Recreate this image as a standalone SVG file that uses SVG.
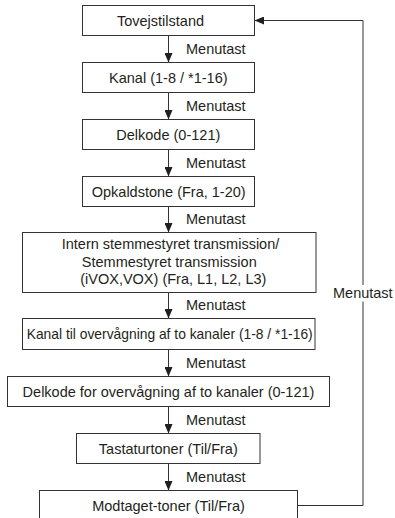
<svg xmlns="http://www.w3.org/2000/svg" width="395" height="518" viewBox="0 0 395 518">
<defs>
<style>
.box{fill:#fff;stroke:#333;stroke-width:1}
.t{font-family:"Liberation Sans",Arial,sans-serif;font-size:14.5px;fill:#231f20}
.c{text-anchor:middle}
.ln{fill:none;stroke:#333;stroke-width:1}
</style>
<marker id="ah" markerWidth="10" markerHeight="8" refX="9" refY="4" orient="auto" markerUnits="userSpaceOnUse">
<path d="M0,0 L9.5,4 L0,8 z" fill="#231f20"/>
</marker>
</defs>
<rect width="395" height="518" fill="#fff"/>
<g id="connectors">
<path class="ln" d="M168.5,35.5 V62" marker-end="url(#ah)"/>
<path class="ln" d="M168.5,92.5 V119" marker-end="url(#ah)"/>
<path class="ln" d="M168.5,149.5 V176" marker-end="url(#ah)"/>
<path class="ln" d="M168.5,206.5 V232" marker-end="url(#ah)"/>
<path class="ln" d="M168.5,292.5 V318" marker-end="url(#ah)"/>
<path class="ln" d="M168.5,349.5 V376" marker-end="url(#ah)"/>
<path class="ln" d="M168.5,406.5 V433" marker-end="url(#ah)"/>
<path class="ln" d="M168.5,463.5 V490" marker-end="url(#ah)"/>
<path class="ln" d="M297.5,505.5 H363 V301.5"/>
<path class="ln" d="M363,285 V20.5 H255" marker-end="url(#ah)"/>
<text class="t" x="186" y="54">Menutast</text>
<text class="t" x="186" y="111">Menutast</text>
<text class="t" x="186" y="168">Menutast</text>
<text class="t" x="186" y="224">Menutast</text>
<text class="t" x="186" y="310">Menutast</text>
<text class="t" x="186" y="368">Menutast</text>
<text class="t" x="186" y="425">Menutast</text>
<text class="t" x="186" y="482">Menutast</text>
<text class="t" x="333" y="297.5">Menutast</text>
</g>
<g id="n1">
<rect class="box" x="82.5" y="5.5" width="172" height="30"/>
<text class="t c" x="160.5" y="25.7">Tovejstilstand</text>
</g>
<g id="n2">
<rect class="box" x="82.5" y="62.5" width="172" height="30"/>
<text class="t c" x="168.3" y="82.7">Kanal (1-8 / *1-16)</text>
</g>
<g id="n3">
<rect class="box" x="82.5" y="119.5" width="172" height="30"/>
<text class="t c" x="168.3" y="139.7">Delkode (0-121)</text>
</g>
<g id="n4">
<rect class="box" x="82.5" y="176.5" width="172" height="30"/>
<text class="t c" x="168.7" y="196.7">Opkaldstone (Fra, 1-20)</text>
</g>
<g id="n5">
<rect class="box" x="22.5" y="232.5" width="293.5" height="60"/>
<text class="t c" x="170.5" y="249">Intern stemmestyret transmission/</text>
<text class="t c" x="169.3" y="266.5">Stemmestyret transmission</text>
<text class="t c" x="173.3" y="284">(iVOX,VOX) (Fra, L1, L2, L3)</text>
</g>
<g id="n6">
<rect class="box" x="22.5" y="318.5" width="292.5" height="31"/>
<text class="t c" x="169.7" y="339.2" textLength="286" lengthAdjust="spacingAndGlyphs">Kanal til overvågning af to kanaler (1-8 / *1-16)</text>
</g>
<g id="n7">
<rect class="box" x="7.5" y="376.5" width="322" height="30"/>
<text class="t c" x="168.5" y="396.7">Delkode for overvågning af to kanaler (0-121)</text>
</g>
<g id="n8">
<rect class="box" x="76.5" y="433.5" width="183.5" height="30"/>
<text class="t c" x="168.3" y="453.7">Tastaturtoner (Til/Fra)</text>
</g>
<g id="n9">
<rect class="box" x="39.5" y="490.5" width="258" height="30"/>
<text class="t c" x="168.5" y="510.7">Modtaget-toner (Til/Fra)</text>
</g>
</svg>
